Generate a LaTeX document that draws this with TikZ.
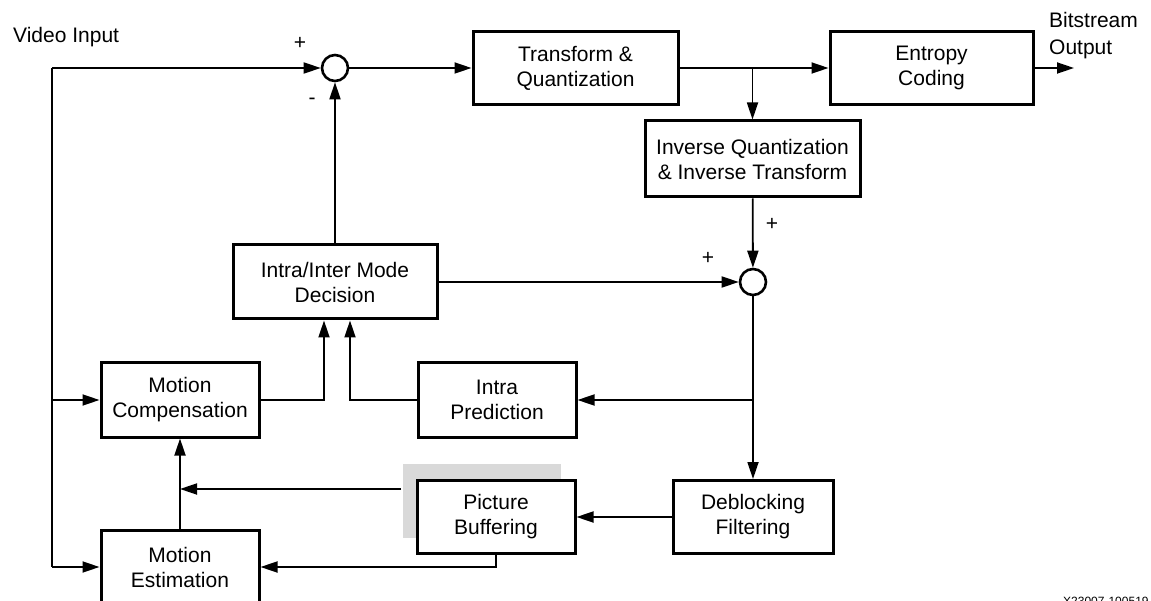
\documentclass[tikz,border=0pt]{standalone}
\usepackage{fontspec}
\setmainfont{Liberation Sans}
\usetikzlibrary{arrows.meta}

\begin{document}
\begin{tikzpicture}[
	x=1pt,y=-1pt,
	font=\fontsize{21}{25}\selectfont,
	blk/.style={draw,fill=white,line width=3pt,align=center,inner sep=0pt},
	sumnode/.style={circle,draw,fill=white,line width=2.6pt,minimum size=26pt,inner sep=0pt},
	wire/.style={line width=1.8pt},
	flow/.style={wire,-{Triangle[length=17pt,width=11pt]}},
	lbl/.style={anchor=base west,inner sep=0pt}
	]
	\useasboundingbox (0,0) rectangle (1151,601);
	% highlight behind the buffer
	\node[fill=gray!30,minimum width=158pt,minimum height=74pt,inner sep=0pt] (hl) at (482,501) {};
	% blocks
	\node[blk,minimum width=205pt,minimum height=73pt] (tq) at (575.5,68) {Transform \&\\Quantization};
	\node[blk,minimum width=203pt,minimum height=73pt] (ec) at (931.5,68) {Entropy\\Coding};
	\node[blk,minimum width=215pt,minimum height=76pt] (iq) at (752.5,159) {Inverse Quantization\\\& Inverse Transform};
	\node[blk,minimum width=204pt,minimum height=74pt] (imd) at (335,282) {Intra/Inter Mode\\Decision};
	\node[blk,minimum width=158pt,minimum height=74pt] (mc) at (180,400) {Motion\\Compensation};
	\node[blk,minimum width=158pt,minimum height=74pt] (ip) at (497,400) {Intra\\Prediction};
	\node[blk,minimum width=158pt,minimum height=74pt] (me) at (180,567) {Motion\\Estimation};
	\node[blk,minimum width=158pt,minimum height=73pt] (pb) at (496,517) {Picture\\Buffering};
	\node[blk,minimum width=160pt,minimum height=73pt] (dbf) at (753,517) {Deblocking\\Filtering};
	\node[sumnode] (sum1) at (335,68) {};
	\node[sumnode] (sum2) at (753,282) {};
	% texts
	\node[lbl] (vin) at (13,43) {Video Input};
	\node[lbl] (bs) at (1049,28) {Bitstream};
	\node[lbl] (bo) at (1049,55) {Output};
	\foreach \n/\x/\y/\s in {a/300/43/+,b/312/101/-,c/772/224/+,d/708/258/+}{
		\node[inner sep=0pt] (sg\n) at (\x,\y) {\s};
	}
	\node[anchor=north west,inner sep=0pt,font=\fontsize{12}{12}\selectfont] (xref) at (1063,597) {X23007-100519};
	% connectors
	\coordinate (vtop) at (52,68);
	\coordinate (br1) at (tq.east -| iq);
	\coordinate (br2) at (sum2 |- ip);
	\coordinate (bout) at (1074,68);
	\coordinate (fb) at (401,489);
	\draw[flow] (vtop) -- (sum1);
	\draw[wire] (vtop) -- (vtop |- me.west);
	\draw[flow] (vtop |- mc.west) -- (mc.west);
	\draw[flow] (vtop |- me.west) -- (me.west);
	\draw[flow] (sum1) -- (tq);
	\draw[flow] (tq) -- (ec);
	\draw[flow] (ec) -- (bout);
	\draw[flow] (br1) -- (iq);
	\draw[flow] (iq) -- (sum2);
	\draw[flow] (imd) -- (sum2);
	\draw[flow] (imd) -- (sum1);
	\draw[flow] (sum2) -- (dbf);
	\draw[flow] (br2) -- (ip);
	\draw[flow] (mc.east) -| ([xshift=-11pt]imd.south);
	\draw[flow] (ip.west) -| ([xshift=15pt]imd.south);
	\draw[flow] (me) -- (mc);
	\draw[flow] (fb) -- (fb -| me);
	\draw[flow] (pb.south) |- (me.east);
	\draw[flow] (dbf) -- (pb);
\end{tikzpicture}
\end{document}
